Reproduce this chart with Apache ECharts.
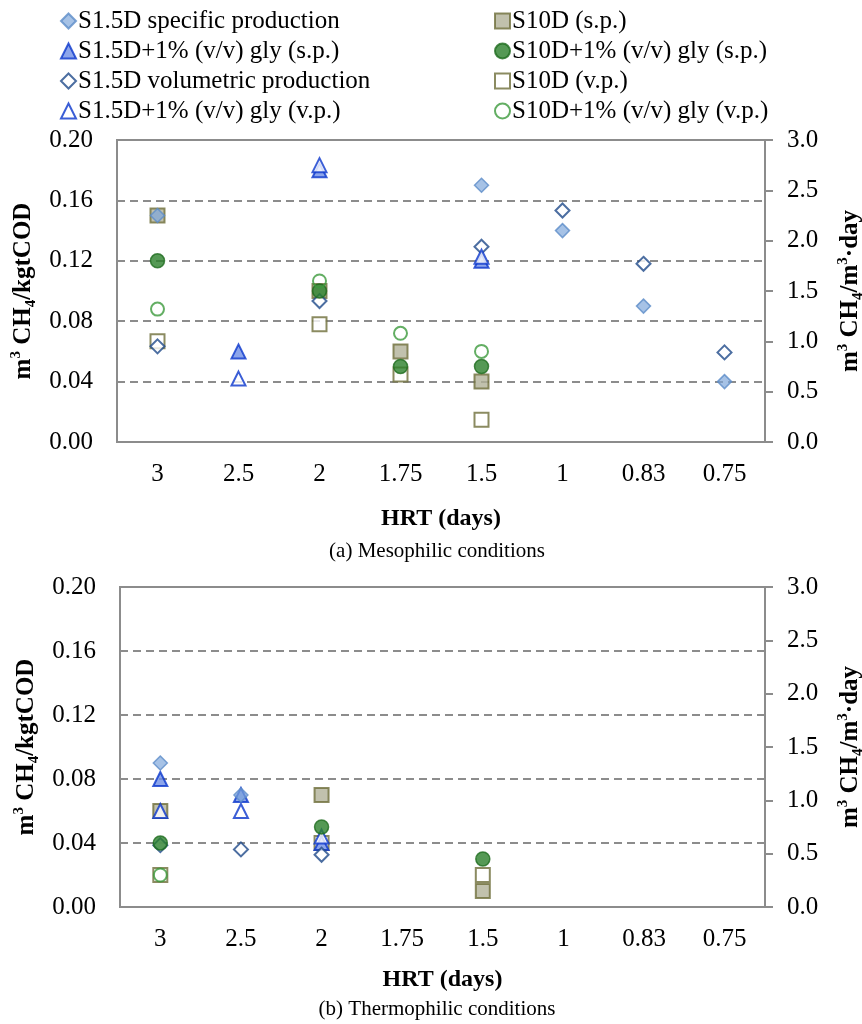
<!DOCTYPE html>
<html>
<head>
<meta charset="utf-8">
<script src="https://cdn.jsdelivr.net/npm/echarts@6/dist/echarts.min.js"></script>
<style>
  html, body { margin: 0; padding: 0; background: #fff; }
  #chart { width: 862px; height: 1024px; }
</style>
</head>
<body>
<div id="chart"></div>
<script>
'use strict';
// HRT categories, same for both panels
const hrtDays = ['3', '2.5', '2', '1.75', '1.5', '1', '0.83', '0.75'];
const leftTicks = [0, 0.04, 0.08, 0.12, 0.16, 0.20];
const rightTicks = [0, 0.5, 1.0, 1.5, 2.0, 2.5, 3.0];

// (a) mesophilic - specific production (left axis), volumetric production (right axis)
const mesoS15dSp     = [0.15, null, null, null, 0.17, 0.14, 0.09, 0.04];
const mesoS15dGlySp  = [null, 0.06, 0.18, null, 0.12, null, null, null];
const mesoS15dVp     = [0.95, null, 1.40, null, 1.94, 2.30, 1.77, 0.89];
const mesoS15dGlyVp  = [null, 0.63, 2.75, null, 1.84, null, null, null];
const mesoS10dSp     = [0.15, null, 0.10, 0.06, 0.04, null, null, null];
const mesoS10dGlySp  = [0.12, null, 0.10, 0.05, 0.05, null, null, null];
const mesoS10dVp     = [1.00, null, 1.17, 0.67, 0.22, null, null, null];
const mesoS10dGlyVp  = [1.32, null, 1.60, 1.08, 0.90, null, null, null];

// (b) thermophilic
const thermoS15dSp    = [0.09, 0.07, null, null, null, null, null, null];
const thermoS15dGlySp = [0.08, 0.07, 0.04, null, null, null, null, null];
const thermoS15dVp    = [0.58, 0.54, 0.49, null, null, null, null, null];
const thermoS15dGlyVp = [0.90, 0.90, 0.66, null, null, null, null, null];
const thermoS10dSp    = [0.06, null, 0.07, null, 0.01, null, null, null];
const thermoS10dGlySp = [0.04, null, 0.05, null, 0.03, null, null, null];
const thermoS10dVp    = [0.30, null, 0.60, null, 0.30, null, null, null];
const thermoS10dGlyVp = [0.30, null, null, null, null, null, null, null];

const FONT = "'Liberation Serif', 'Times New Roman', serif";
const GREY = '#8c8c8c';

// marker look for each series (name, symbol, style, which axis)
const seriesDefs = [
    { name: 'S1.5D specific production', symbol: 'diamond', size: 14, right: false, z: 4,
      style: { color: 'rgba(125,165,218,0.85)', borderColor: '#5d8cc8', borderWidth: 1.5 } },
    { name: 'S1.5D+1% (v/v) gly (s.p.)', symbol: 'triangle', size: 14, right: false, z: 3,
      style: { color: '#6f8ee6', borderColor: '#0a36cc', borderWidth: 2 } },
    { name: 'S1.5D volumetric production', symbol: 'diamond', size: 14, right: true, z: 3,
      style: { color: '#fff', borderColor: '#1f4a8a', borderWidth: 2 } },
    { name: 'S1.5D+1% (v/v) gly (v.p.)', symbol: 'triangle', size: 14, right: true, z: 3,
      style: { color: '#fff', borderColor: '#0a36cc', borderWidth: 2 } },
    { name: 'S10D (s.p.)', symbol: 'rect', size: 14, right: false, z: 2,
      style: { color: '#b2b198', borderColor: '#6e6e3a', borderWidth: 2 } },
    { name: 'S10D+1% (v/v) gly (s.p.)', symbol: 'circle', size: 14, right: false, z: 3,
      style: { color: '#2a7f2a', borderColor: '#1e6b1e', borderWidth: 1.5 } },
    { name: 'S10D (v.p.)', symbol: 'rect', size: 14, right: true, z: 2,
      style: { color: '#fff', borderColor: '#6e6e3a', borderWidth: 2 } },
    { name: 'S10D+1% (v/v) gly (v.p.)', symbol: 'circle', size: 13, right: true, z: 3,
      style: { color: 'rgba(255,255,255,0)', borderColor: '#3c9a3c', borderWidth: 2 } },
];
const mesoData = [mesoS15dSp, mesoS15dGlySp, mesoS15dVp, mesoS15dGlyVp,
                  mesoS10dSp, mesoS10dGlySp, mesoS10dVp, mesoS10dGlyVp];
const thermoData = [thermoS15dSp, thermoS15dGlySp, thermoS15dVp, thermoS15dGlyVp,
                    thermoS10dSp, thermoS10dGlySp, thermoS10dVp, thermoS10dGlyVp];

const nameRich = {
    b: { fontFamily: FONT, fontWeight: 'bold', fontSize: 25, lineHeight: 30, color: '#000' },
    sup: { fontFamily: FONT, fontWeight: 'bold', fontSize: 15, lineHeight: 15, verticalAlign: 'top', color: '#000' },
    sub: { fontFamily: FONT, fontWeight: 'bold', fontSize: 15, lineHeight: 15, verticalAlign: 'bottom', color: '#000' },
};

const makeX = (gridIndex) => ({
    type: 'category',
    gridIndex,
    data: hrtDays,
    name: 'HRT (days)',
    nameLocation: 'middle',
    nameGap: gridIndex === 0 ? 65 : 61,
    nameTextStyle: { fontFamily: FONT, fontWeight: 'bold', fontSize: 24, color: '#000' },
    axisLine: { lineStyle: { color: GREY, width: 2 } },
    axisTick: { show: false },
    axisLabel: { fontFamily: FONT, fontSize: 25, color: '#000', margin: 20 },
});

const makeLeftY = (gridIndex) => ({
    type: 'value',
    gridIndex,
    min: leftTicks[0], max: leftTicks[leftTicks.length - 1], interval: leftTicks[1] - leftTicks[0],
    name: '{b|m}{sup|3}{b| CH}{sub|4}{b|/kgtCOD}',
    nameLocation: 'middle',
    nameRotate: 90,
    nameGap: 71,
    nameTextStyle: { rich: nameRich },
    axisLine: { show: true, lineStyle: { color: GREY, width: 2 } },
    axisTick: { show: false },
    axisLabel: {
        fontFamily: FONT, fontSize: 25, color: '#000', margin: 24,
        formatter: (v) => v.toFixed(2),
    },
    splitLine: { show: true, lineStyle: { color: GREY, width: 2, type: [8, 5] } },
});

const makeRightY = (gridIndex) => ({
    type: 'value',
    gridIndex,
    position: 'right',
    min: rightTicks[0], max: rightTicks[rightTicks.length - 1], interval: rightTicks[1] - rightTicks[0],
    name: '{b|m}{sup|3}{b| CH}{sub|4}{b|/m}{sup|3}{b|·day}',
    nameLocation: 'middle',
    nameRotate: 90,
    nameGap: 71,
    nameTextStyle: { rich: nameRich },
    axisLine: { show: true, lineStyle: { color: GREY, width: 2 } },
    axisTick: { show: true, inside: false, length: 8, lineStyle: { color: GREY, width: 2 } },
    axisLabel: {
        fontFamily: FONT, fontSize: 25, color: '#000', margin: 22,
        formatter: (v) => v.toFixed(1),
    },
    splitLine: { show: false },
});

const buildSeries = (gridIndex, dataSet) => seriesDefs.map((d, i) => ({
    name: d.name,
    type: 'scatter',
    xAxisIndex: gridIndex,
    yAxisIndex: gridIndex * 2 + (d.right ? 1 : 0),
    symbol: d.symbol,
    symbolSize: d.size,
    z: d.z,
    itemStyle: d.style,
    data: dataSet[i],
}));

const legendBase = {
    orient: 'vertical',
    top: 1,
    itemWidth: 15,
    itemHeight: 15,
    itemGap: 0,
    selectedMode: false,
    textStyle: { fontFamily: FONT, fontSize: 25, color: '#000', lineHeight: 30, padding: [0, 0, 0, -3] },
};

const chart = echarts.init(document.getElementById('chart'), null, { renderer: 'canvas' });
chart.setOption({
    animation: false,
    backgroundColor: '#fff',
    title: [
        { text: '(a) Mesophilic conditions', left: 432, top: 536, textAlign: 'center',
          textStyle: { fontFamily: FONT, fontWeight: 'normal', fontSize: 21, color: '#000' } },
        { text: '(b) Thermophilic conditions', left: 432, top: 994, textAlign: 'center',
          textStyle: { fontFamily: FONT, fontWeight: 'normal', fontSize: 21, color: '#000' } },
    ],
    legend: [
        Object.assign({}, legendBase, { left: 55, data: seriesDefs.slice(0, 4).map(d => d.name) }),
        Object.assign({}, legendBase, { left: 489, data: seriesDefs.slice(4).map(d => d.name) }),
    ],
    grid: [
        { left: 117, top: 140, width: 648, height: 302, show: true, borderColor: GREY, borderWidth: 2,
          containLabel: false, outerBoundsMode: 'none' },
        { left: 120, top: 587, width: 645, height: 320, show: true, borderColor: GREY, borderWidth: 2,
          containLabel: false, outerBoundsMode: 'none' },
    ],
    xAxis: [makeX(0), makeX(1)],
    yAxis: [makeLeftY(0), makeRightY(0), makeLeftY(1), makeRightY(1)],
    series: [...buildSeries(0, mesoData), ...buildSeries(1, thermoData)],
});
</script>
</body>
</html>
